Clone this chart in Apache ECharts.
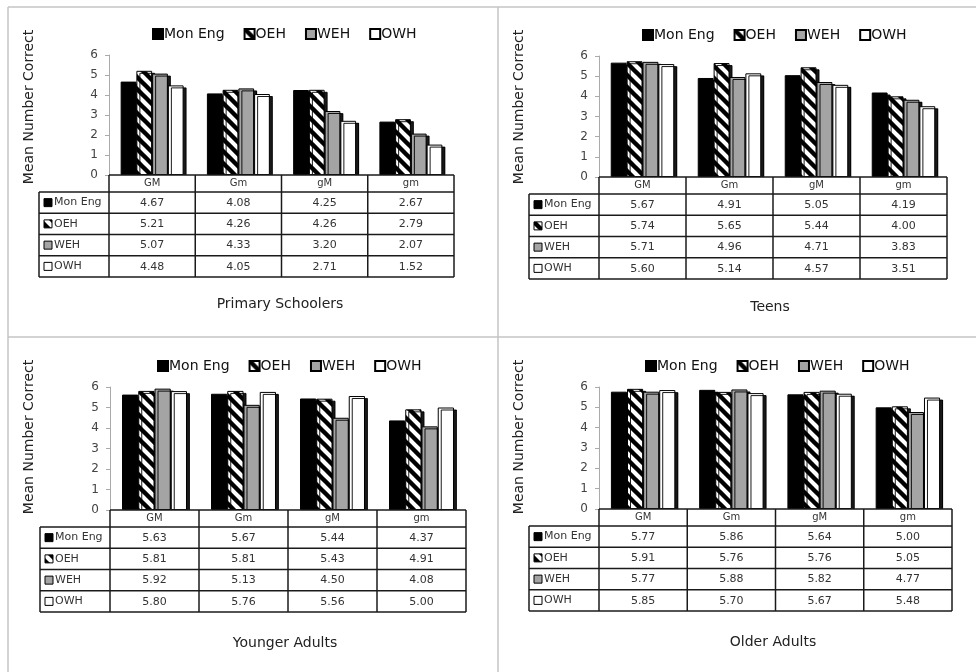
<!DOCTYPE html>
<html>
<head>
<meta charset="utf-8">
<script src="https://cdn.jsdelivr.net/npm/echarts@6/dist/echarts.min.js"></script>
<style>
html,body{margin:0;padding:0;background:#fff;}
#main{width:976px;height:672px;}
</style>
</head>
<body>
<div id="main"></div>
<script>
// ---- data ----
const categories = ['GM', 'Gm', 'gM', 'gm'];
const seriesNames = ['Mon Eng', 'OEH', 'WEH', 'OWH'];
const panelTitles = ['Primary Schoolers', 'Teens', 'Younger Adults', 'Older Adults'];
const yAxisTitle = 'Mean Number Correct';
// rows: Mon Eng, OEH, WEH, OWH ; columns: GM, Gm, gM, gm
const primaryValues = [
  [4.67, 4.08, 4.25, 2.67],
  [5.21, 4.26, 4.26, 2.79],
  [5.07, 4.33, 3.20, 2.07],
  [4.48, 4.05, 2.71, 1.52]
];
const teensValues = [
  [5.67, 4.91, 5.05, 4.19],
  [5.74, 5.65, 5.44, 4.00],
  [5.71, 4.96, 4.71, 3.83],
  [5.60, 5.14, 4.57, 3.51]
];
const youngerValues = [
  [5.63, 5.67, 5.44, 4.37],
  [5.81, 5.81, 5.43, 4.91],
  [5.92, 5.13, 4.50, 4.08],
  [5.80, 5.76, 5.56, 5.00]
];
const olderValues = [
  [5.77, 5.86, 5.64, 5.00],
  [5.91, 5.76, 5.76, 5.05],
  [5.77, 5.88, 5.82, 4.77],
  [5.85, 5.70, 5.67, 5.48]
];
const panelValues = [primaryValues, teensValues, youngerValues, olderValues];

// ---- layout ----
const FONT = 'DejaVu Sans';
const layout = [
  {gl: 109, gt: 55, gw: 345, gh: 120, tx: 280, ty: 304, yx: 29, yy: 107, legL: 152, legT: 27},
  {gl: 599, gt: 56, gw: 348, gh: 121, tx: 770, ty: 307, yx: 519, yy: 107, legL: 642, legT: 28},
  {gl: 110, gt: 387, gw: 356, gh: 123, tx: 285, ty: 643, yx: 29, yy: 437, legL: 157, legT: 359},
  {gl: 599, gt: 387, gw: 353, gh: 122, tx: 773, ty: 642, yx: 519, yy: 437, legL: 645, legT: 359}
];
const HEADER_H = 17, ROW_H = 21.25, LABEL_W = 70;

function hatchCanvas() {
  const s = 12;
  const c = document.createElement('canvas');
  c.width = s; c.height = s;
  const x = c.getContext('2d');
  x.fillStyle = '#fff';
  x.fillRect(0, 0, s, s);
  x.strokeStyle = '#000';
  x.lineWidth = 4.4;
  x.beginPath();
  for (const k of [-s, 0, s]) { x.moveTo(k - s, -s); x.lineTo(k + 2 * s, 2 * s); }
  x.stroke();
  return c;
}
const hatch = {image: hatchCanvas(), repeat: 'repeat'};
const fills = ['#000', hatch, '#a4a4a4', '#fff'];

const grids = [], xAxes = [], yAxes = [], series = [], legends = [], graphics = [];

layout.forEach((L, p) => {
  grids.push({left: L.gl, top: L.gt, width: L.gw, height: L.gh, containLabel: false});
  xAxes.push({
    type: 'category', gridIndex: p, data: categories, z: 30,
    axisLine: {show: false}, axisTick: {show: false},
    axisLabel: {margin: 3, fontSize: 10, color: '#333', fontFamily: FONT}
  });
  yAxes.push({
    type: 'value', gridIndex: p, min: 0, max: 6, interval: 1,
    axisLine: {show: true, lineStyle: {color: '#aaa', width: 1}},
    axisTick: {show: true, length: 4, lineStyle: {color: '#aaa'}},
    splitLine: {show: false},
    axisLabel: {margin: 11, fontSize: 12, color: '#444', fontFamily: FONT}
  });
  seriesNames.forEach((nm, s) => {
    series.push({
      type: 'bar', name: nm, xAxisIndex: p, yAxisIndex: p,
      data: panelValues[p][s],
      barGap: '0%', barCategoryGap: '27%',
      itemStyle: {color: fills[s], borderColor: '#000', borderWidth: 1,
        shadowColor: 'rgba(0,0,0,0.9)', shadowOffsetX: 3, shadowOffsetY: 2, shadowBlur: 0.5},
      emphasis: {disabled: true},
      z: 2
    });
  });
  legends.push({
    left: L.legL, top: L.legT, padding: 0, data: seriesNames, icon: 'rect',
    itemWidth: 10, itemHeight: 10, itemGap: 19,
    textStyle: {fontSize: 14, color: '#111', fontFamily: FONT, padding: [0, 0, 0, -4]},
    itemStyle: {shadowColor: 'transparent', shadowOffsetX: 0, shadowOffsetY: 0, shadowBlur: 0},
    selectedMode: false
  });

  // table
  const gb = L.gt + L.gh;
  const right = L.gl + L.gw;
  const lab = L.gl - LABEL_W;
  const colW = L.gw / categories.length;
  const tableBottom = gb + HEADER_H + ROW_H * seriesNames.length;
  const line = (x1, y1, x2, y2) => graphics.push({type: 'line', z: 40,
    shape: {x1, y1, x2, y2}, style: {stroke: '#1a1a1a', lineWidth: 1.5}});
  // white cover for header row
  graphics.push({type: 'rect', z: 20, shape: {x: L.gl, y: gb, width: L.gw, height: HEADER_H}, style: {fill: '#fff'}});
  line(L.gl, gb, right, gb);
  line(lab, gb + HEADER_H, right, gb + HEADER_H);
  for (let r = 1; r <= seriesNames.length; r++) {
    const y = gb + HEADER_H + ROW_H * r;
    line(lab, y, right, y);
  }
  line(lab, gb + HEADER_H, lab, tableBottom);
  for (let c = 0; c <= categories.length; c++) {
    const x = L.gl + colW * c;
    line(x, gb, x, tableBottom);
  }
  seriesNames.forEach((nm, s) => {
    const cy = gb + HEADER_H + ROW_H * s + ROW_H / 2;
    graphics.push({type: 'rect', z: 41, shape: {x: lab + 5, y: cy - 4, width: 8, height: 8},
      style: {fill: fills[s], stroke: '#000', lineWidth: 1}});
    graphics.push({type: 'text', z: 41, x: lab + 15, y: cy,
      style: {text: nm, fontSize: 11, fontFamily: FONT, fill: '#333', verticalAlign: 'middle', align: 'left'}});
    categories.forEach((cat, c) => {
      graphics.push({type: 'text', z: 41, x: L.gl + colW * (c + 0.5), y: cy + 0.5,
        style: {text: panelValues[p][s][c].toFixed(2), fontSize: 11, fontFamily: FONT, fill: '#333',
          align: 'center', verticalAlign: 'middle'}});
    });
  });
  // panel title
  graphics.push({type: 'text', z: 41, x: L.tx, y: L.ty,
    style: {text: panelTitles[p], fontSize: 14, fontFamily: FONT, fill: '#222', align: 'center', verticalAlign: 'middle'}});
  // y axis title
  graphics.push({type: 'text', z: 41, x: L.yx, y: L.yy, rotation: Math.PI / 2,
    style: {text: yAxisTitle, fontSize: 14, fontFamily: FONT, fill: '#222', align: 'center', verticalAlign: 'middle'}});
});

// frame & dividers
const frame = (x1, y1, x2, y2) => graphics.push({type: 'line', z: 1,
  shape: {x1, y1, x2, y2}, style: {stroke: '#c4c4c4', lineWidth: 1.5}});
frame(8, 7, 976, 7);
frame(8, 7, 8, 672);
frame(498, 7, 498, 672);
frame(8, 337, 976, 337);

const chart = echarts.init(document.getElementById('main'), null, {renderer: 'canvas'});
chart.setOption({
  animation: false,
  backgroundColor: '#fff',
  grid: grids,
  xAxis: xAxes,
  yAxis: yAxes,
  legend: legends,
  series: series,
  graphic: {elements: graphics}
});
</script>
</body>
</html>
